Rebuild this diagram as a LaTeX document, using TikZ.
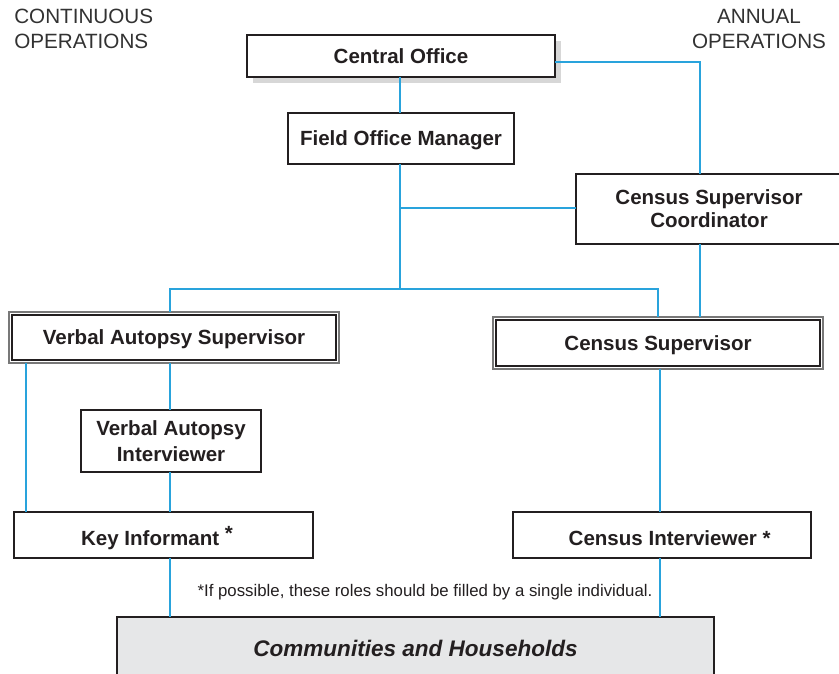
\documentclass[tikz,border=0pt]{standalone}
\usepackage{fontspec}
\setmainfont{Liberation Sans}
\usetikzlibrary{calc,shadows}
\definecolor{lineblue}{RGB}{41,163,220}
\definecolor{boxline}{RGB}{35,31,32}
\definecolor{shadowgray}{RGB}{215,215,215}
\definecolor{hhfill}{RGB}{230,231,232}
\definecolor{txt}{RGB}{35,31,32}
\definecolor{hdrtxt}{RGB}{50,50,50}
\definecolor{outergray}{RGB}{120,120,120}
\begin{document}
\begin{tikzpicture}[x=0.75pt,y=-0.75pt,
  box/.style={draw=boxline, line width=1.5pt, fill=white, inner sep=0pt, outer sep=0pt,
    text=txt, font=\fontsize{15.4}{19.5}\selectfont\bfseries},
  single/.style={text height=11pt, text depth=0pt},
  lowtext/.style={text height=15.5pt, text depth=0pt},
  dbl/.style={box},
  conn/.style={draw=lineblue, line width=0.9pt},
  connthick/.style={draw=lineblue, line width=1.5pt},
  hdr/.style={inner sep=0pt, text=hdrtxt, font=\fontsize{15.5}{18.75}\selectfont},
]
\clip (0,0) rectangle (839,674);
\useasboundingbox (0,0) rectangle (839,674);

% header labels
\node[hdr, align=left, anchor=west] (cont) at (14,29) {CONTINUOUS\\OPERATIONS};
\node[hdr, align=center] (annual) at (759,29) {ANNUAL\\OPERATIONS};

% coordinates for connector columns
\coordinate (xa) at (170,0);
\coordinate (xb) at (658,0);
\coordinate (xc) at (26,0);
\coordinate (xd) at (660,0);
\coordinate (xr) at (700,0);
\coordinate (xm) at (400,0);
\coordinate (hb) at (0,289);
\coordinate (br) at (0,208);

% boxes
\node[box, single, minimum width=308*0.75pt, minimum height=42*0.75pt,
  drop shadow={shadow xshift=4.8pt, shadow yshift=-4.5pt, fill=shadowgray, opacity=1}]
  (co) at (401,56) {Central Office};
\node[box, single, minimum width=226*0.75pt, minimum height=51*0.75pt] (fom) at (401,138.5) {Field Office Manager};
\node[box, align=center, minimum width=266*0.75pt, minimum height=70*0.75pt, font=\fontsize{15.4}{17.25}\selectfont\bfseries]
  (csc) at (709,209) {Census Supervisor\\Coordinator};
\node[dbl, single, minimum width=324*0.75pt, minimum height=45*0.75pt] (vas) at (174,337.5) {Verbal Autopsy Supervisor};
\node[dbl, single, minimum width=324*0.75pt, minimum height=46*0.75pt] (cs) at (658,343) {Census Supervisor};
\draw[outergray, line width=0.8pt] ($(vas.north west)+(-3,-3)$) rectangle ($(vas.south east)+(3,3)$);
\draw[outergray, line width=0.8pt] ($(cs.north west)+(-3,-3)$) rectangle ($(cs.south east)+(3,3)$);
\node[box, align=center, line width=1.9pt, minimum width=180*0.75pt, minimum height=62*0.75pt] (vai) at (171,441) {Verbal Autopsy\\Interviewer};
\node[box, lowtext, minimum width=299*0.75pt, minimum height=46*0.75pt] (ki) at (163,534.7) {\hspace*{-9pt}Key Informant \raisebox{3.5pt}{*}};
\node[box, lowtext, minimum width=298*0.75pt, minimum height=46*0.75pt] (ci) at (661.7,534.7) {\hspace*{12pt}Census Interviewer *};
\node[box, fill=hhfill, text height=12.1pt, text depth=0pt, minimum width=597*0.75pt, minimum height=63.5*0.75pt,
  font=\fontsize{16.9}{20}\selectfont\bfseries\itshape] (chh) at (415.5,648.25) {Communities and Households};

% footnote
\node[inner sep=0pt, text=txt, font=\fontsize{12.6}{15}\selectfont] (note) at (425,592)
  {*If possible, these roles should be filled by a single individual.};

% connectors
\draw[conn] (xm |- co.south) -- (xm |- fom.north);
\draw[conn] ($(co.east)+(0,6)$) -| (xr |- csc.north);
\draw[conn] (xm |- fom.south) -- (xm |- hb);
\draw[conn] (xm |- br) -- (br -| csc.west);
\draw[conn] ($(xa |- vas.north)+(0,-3)$) -- (xa |- hb) -- (xb |- hb) -- ($(xb |- cs.north)+(0,-3)$);
\draw[conn] (xr |- csc.south) -- ($(xr |- cs.north)+(0,-3)$);
\draw[conn] ($(xa |- vas.south)+(0,3)$) -- (xa |- vai.north);
\draw[conn] (xa |- vai.south) -- (xa |- ki.north);
\draw[connthick] ($(xc |- vas.south)+(0,3)$) -- (xc |- ki.north);
\draw[connthick] ($(xd |- cs.south)+(0,3)$) -- (xd |- ci.north);
\draw[conn] (xa |- ki.south) -- (xa |- chh.north);
\draw[conn] (xd |- ci.south) -- (xd |- chh.north);
\end{tikzpicture}
\end{document}
